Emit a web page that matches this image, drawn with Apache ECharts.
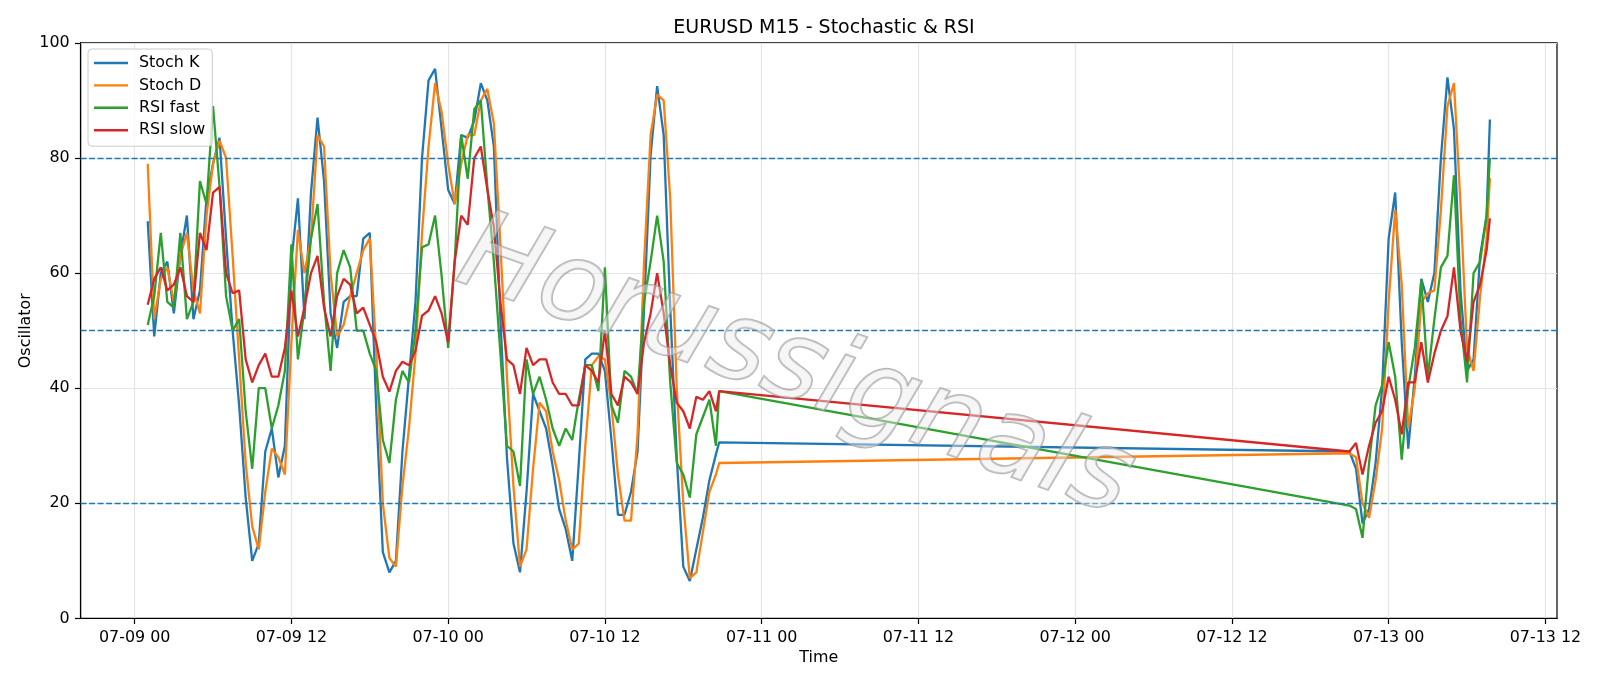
<!DOCTYPE html>
<html>
<head>
    <meta charset="utf-8"/>
    <script src="https://cdn.jsdelivr.net/npm/echarts@6/dist/echarts.min.js"></script>
    <style>
        html, body { margin: 0; padding: 0; background: #fff; }
        #main { width: 1600px; height: 686px; }
    </style>
</head>
<body>
<div id="main"></div>
<script type="text/javascript">
    // half-hour samples (M15 bars), two trading blocks
    var seg1Start = '07-09 01:00', seg1End = '07-10 20:45';
    var seg2Start = '07-12 21:00', seg2End = '07-13 07:45';

    var stochK1 = [69, 49, 60, 62, 53, 63, 70, 52, 57, 73, 79, 83.5, 66, 50,
        37, 21, 10, 13, 29, 33, 24.5, 30, 62, 73, 52, 74, 87, 76,
        53, 47, 55, 56, 56, 66, 67, 36, 11.5, 8, 10, 29, 42, 55,
        80, 93.5, 95.5, 85, 74.5, 72, 84, 83.5, 86.5, 93, 90, 82, 52, 28, 13, 8,
        22, 39, 36, 33, 26.5, 19, 15.5, 10, 27, 45, 46, 46, 43, 31,
        18, 18, 22, 29, 54, 80.5, 92.5, 84, 54, 28, 9, 6.5, 12, 17.5, 24, 28.5, 30.6];
    var stochD1 = [79, 52, 59, 61, 55, 63, 67, 57, 53, 70, 79, 83, 80, 63,
        45, 27, 16, 12, 22, 29.5, 28, 25, 48, 67.5, 60, 66, 84, 82,
        60, 49, 51, 56, 60, 64, 66, 46, 20, 10.5, 9, 23, 33, 46,
        67, 82, 93, 88, 79, 72, 79, 84, 84, 90, 92, 86, 65, 42, 23, 9,
        12, 26, 37.5, 36, 29, 24, 17, 12, 13, 30, 44, 45.5, 45, 37,
        25, 17, 17, 32, 62, 84, 91, 90, 73, 40, 20, 7, 8, 15, 22, 25, 27];
    var rsiFast1 = [51, 56, 67, 55, 54, 67, 52, 55, 76, 72, 89, 75, 56, 50,
        52, 36, 26, 40, 40, 33, 37, 43, 65, 45, 54, 66, 72, 55,
        43, 60, 64, 61, 50, 50, 46, 43, 31, 27, 38, 43, 41, 50,
        64.5, 65, 70, 59.5, 47, 62, 84, 76.4, 88.5, 90, 75, 62, 46, 30, 29, 23,
        45, 39, 42, 38, 33, 30, 33, 31, 38, 44, 44, 39.5, 61, 37,
        34, 43, 42, 39, 55, 62, 70, 62, 41, 27, 25, 21, 32, 35, 38, 30, 39.5];
    var rsiSlow1 = [54.5, 59, 61, 57, 58, 61, 56, 55, 67, 64, 74, 75, 60, 56.5,
        57, 45, 41, 44, 46, 42, 42, 47, 57, 49, 54, 60, 63, 54,
        49, 56, 59, 58, 53, 54, 51, 48, 42, 39.4, 43, 44.6, 44, 46.5,
        52.6, 53.5, 56, 53, 48, 62, 70, 68.4, 80, 82, 74.5, 68, 55, 45, 44, 39,
        47, 44, 45, 45, 41, 39, 39, 37, 37, 44, 43, 41, 50, 39,
        37, 42, 41, 39, 48, 53, 60, 53, 44, 37.5, 36, 33, 38.5, 38, 39.5, 36, 39.5];

    var stochK2 = [29, 26, 16.5, 19, 27, 40, 66, 74, 48, 29.5, 42, 59, 55, 60, 80, 94, 85, 57, 43, 45, 63, 70, 86.7];
    var stochD2 = [28.7, 28, 20, 17.5, 24, 33, 55, 71, 58, 33, 40, 55, 56.5, 57, 71, 89, 93, 72, 47, 43, 56, 66, 76.5];
    var rsiFast2 = [19.6, 19, 14, 27, 37, 40.5, 48, 42, 27.6, 40, 47, 58.7, 42, 52, 61, 63, 77, 52, 41, 60, 62, 70, 80];
    var rsiSlow2 = [29, 30.5, 25, 30, 34, 36, 42, 38, 32, 41, 41, 48, 41, 46, 50, 52.5, 61, 50, 44.6, 55, 58, 64, 69.5];

    var xTicks = ['07-09 00', '07-09 12', '07-10 00', '07-10 12', '07-11 00',
        '07-11 12', '07-12 00', '07-12 12', '07-13 00', '07-13 12'];
    var yTicks = [0, 20, 40, 60, 80, 100];
    var levels = [20, 50, 80];

    // 'MM-DD HH[:MM]' -> hours since 07-09 00:00
    function toHours(s) {
        var p = s.split(/[- :]/);
        return (+p[1] - 9) * 24 + (+p[2]) + (p[3] ? +p[3] / 60 : 0);
    }

    function segTimes(start, end, n) {
        var t0 = toHours(start), out = [];
        for (var i = 0; i < n - 1; i++) out.push(t0 + i * 0.5);
        out.push(toHours(end));
        return out;
    }

    var times = segTimes(seg1Start, seg1End, stochK1.length)
        .concat(segTimes(seg2Start, seg2End, stochK2.length));

    function pairs(a, b) {
        var v = a.concat(b);
        return times.map(function (t, i) { return [t, v[i]]; });
    }

    var tickHours = xTicks.map(toHours);
    var first = times[0], last = times[times.length - 1];
    var pad = (last - first) * 0.05;

    var font = '"DejaVu Sans", sans-serif';
    var lineIcon = 'path://M0,0 L34,0 L34,2.4 L0,2.4 Z';
    var myChart = echarts.init(document.getElementById('main'));

    function lineSeries(name, color, data) {
        return {
            name: name,
            type: 'line',
            data: data,
            symbol: 'none',
            lineStyle: { color: color, width: 2.3 },
            itemStyle: { color: color },
            animation: false
        };
    }

    var option = {
        animation: false,
        title: {
            text: 'EURUSD M15 - Stochastic & RSI',
            left: 819,
            top: 14,
            textAlign: 'center',
            textStyle: { fontFamily: font, fontSize: 19, fontWeight: 'normal', color: '#000' }
        },
        legend: {
            orient: 'vertical',
            left: 88,
            top: 49,
            data: ['Stoch K', 'Stoch D', 'RSI fast', 'RSI slow'],
            icon: lineIcon,
            padding: [6, 7, 8, 6],
            itemWidth: 34,
            itemHeight: 14,
            itemGap: 6.4,
            backgroundColor: 'rgba(255,255,255,0.8)',
            borderColor: '#cccccc',
            borderWidth: 1,
            borderRadius: 4,
            textStyle: { fontFamily: font, fontSize: 15.9, color: '#000', padding: [0, 0, 0, 6] }
        },
        grid: {
            left: 80.6,
            right: 43,
            top: 42.9,
            bottom: 67.6,
            show: true,
            borderColor: '#000',
            borderWidth: 1.2,
            backgroundColor: 'transparent'
        },
        xAxis: {
            type: 'value',
            min: first - pad,
            max: last + pad,
            name: 'Time',
            nameLocation: 'middle',
            nameGap: 30,
            nameTextStyle: { fontFamily: font, fontSize: 15.9, color: '#000' },
            axisLine: { onZero: false, lineStyle: { color: '#000', width: 1.2 } },
            axisTick: { show: true, length: 5.6, lineStyle: { color: '#000', width: 1.2 }, customValues: tickHours },
            axisLabel: {
                customValues: tickHours,
                margin: 11,
                fontFamily: font,
                fontSize: 15.9,
                color: '#000',
                formatter: function (v) {
                    var i = tickHours.indexOf(v);
                    return i >= 0 ? xTicks[i] : '';
                }
            },
            splitLine: { show: true, lineStyle: { color: '#e4e4e4', width: 1.2 } }
        },
        yAxis: {
            type: 'value',
            min: yTicks[0],
            max: yTicks[yTicks.length - 1],
            interval: yTicks[1] - yTicks[0],
            name: 'Oscillator',
            nameLocation: 'middle',
            nameRotate: 90,
            nameGap: 47,
            nameMoveOverlap: false,
            nameTextStyle: { fontFamily: font, fontSize: 15.9, color: '#000' },
            axisLine: { show: true, onZero: false, lineStyle: { color: '#000', width: 1.2 } },
            axisTick: { show: true, length: 5.6, lineStyle: { color: '#000', width: 1.2 } },
            axisLabel: { margin: 11, fontFamily: font, fontSize: 15.9, color: '#000' },
            splitLine: { show: true, lineStyle: { color: '#e4e4e4', width: 1.2 } }
        },
        graphic: [{
            type: 'text',
            x: 795,
            y: 370,
            rotation: -0.34,
            z: 100,
            silent: true,
            style: {
                text: 'Horussignals',
                x: 0,
                y: 0,
                align: 'center',
                verticalAlign: 'middle',
                font: 'italic 110px "DejaVu Sans"',
                fill: 'rgba(235,235,235,0.45)',
                stroke: 'rgba(140,140,140,0.65)',
                lineWidth: 2,
                shadowColor: 'rgba(0,0,0,0.25)',
                shadowBlur: 3,
                shadowOffsetX: 3,
                shadowOffsetY: 3
            }
        }],
        series: [
            lineSeries('Stoch K', '#1f77b4', pairs(stochK1, stochK2)),
            lineSeries('Stoch D', '#ff7f0e', pairs(stochD1, stochD2)),
            lineSeries('RSI fast', '#2ca02c', pairs(rsiFast1, rsiFast2)),
            lineSeries('RSI slow', '#d62728', pairs(rsiSlow1, rsiSlow2)),
            {
                name: 'levels',
                type: 'line',
                data: [],
                markLine: {
                    silent: true,
                    symbol: 'none',
                    label: { show: false },
                    lineStyle: { color: '#1f77b4', width: 1.3, type: [6, 2.5] },
                    data: levels.map(function (l) { return { yAxis: l }; })
                }
            }
        ]
    };
    myChart.setOption(option);
</script>
</body>
</html>
